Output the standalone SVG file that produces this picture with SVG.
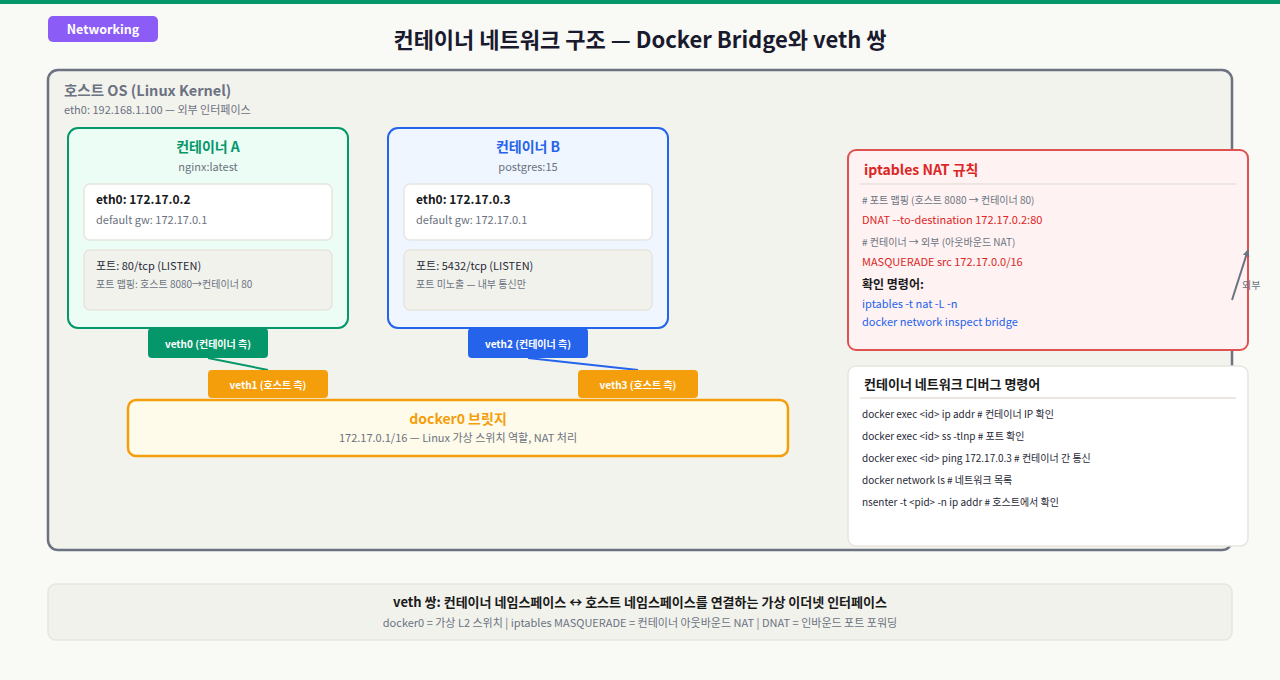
<svg xmlns="http://www.w3.org/2000/svg" width="1280" height="680" viewBox="0 0 1280 680">
<defs>
<style>
text{font-family:"Noto Sans CJK KR","Noto Sans",sans-serif}
.b{font-weight:700}
.g{fill:#6b7280}
.d{fill:#1f2937}
.w{fill:#ffffff}
.c{text-anchor:middle}
</style>
<marker id="ah" viewBox="0 0 10 10" refX="9" refY="5" markerWidth="7" markerHeight="7" orient="auto-start-reverse" markerUnits="userSpaceOnUse">
<path d="M0,0 L10,5 L0,10 z" fill="#6b7280"/>
</marker>
</defs>
<rect x="0" y="0" width="1280" height="680" fill="#f9f9f5"/>
<rect x="0" y="0" width="1280" height="4" fill="#059669"/>

<g id="badge">
<rect x="48" y="16" width="110" height="26" rx="5" fill="#8b5cf6"/>
<text x="103" y="33.5" class="c b w" font-size="12.5">Networking</text>
</g>
<text id="title" x="640" y="48" class="c b" font-size="22" fill="#1a1a2e">컨테이너 네트워크 구조 — Docker Bridge와 veth 쌍</text>

<g id="host">
<rect x="48" y="70" width="1184" height="480" rx="10" fill="#f3f3ee" stroke="#6b7280" stroke-width="2.5"/>
<text x="64" y="96" class="b g" font-size="14.5">호스트 OS (Linux Kernel)</text>
<text x="64" y="114" class="g" font-size="11">eth0: 192.168.1.100 — 외부 인터페이스</text>
</g>

<g id="containerA">
<rect x="68" y="128" width="280" height="200" rx="10" fill="#ecfdf5" stroke="#059669" stroke-width="2"/>
<text x="208" y="152" class="c b" font-size="14" fill="#059669">컨테이너 A</text>
<text x="208" y="171" class="c g" font-size="11">nginx:latest</text>
<rect x="84" y="184" width="248" height="56" rx="6" fill="#ffffff" stroke="#e7e5dd" stroke-width="1.5"/>
<text x="96" y="204" class="b" font-size="12" fill="#1a1a1a">eth0: 172.17.0.2</text>
<text x="96" y="224" class="g" font-size="11">default gw: 172.17.0.1</text>
<rect x="84" y="250" width="248" height="60" rx="6" fill="#f2f2ed" stroke="#e7e5dd" stroke-width="1.5"/>
<text x="96" y="270" class="d" font-size="11">포트: 80/tcp (LISTEN)</text>
<text x="96" y="288" class="g" font-size="10">포트 맵핑: 호스트 8080→컨테이너 80</text>
</g>

<g id="containerB">
<rect x="388" y="128" width="280" height="200" rx="10" fill="#eff6ff" stroke="#2563eb" stroke-width="2"/>
<text x="528" y="152" class="c b" font-size="14" fill="#2563eb">컨테이너 B</text>
<text x="528" y="171" class="c g" font-size="11">postgres:15</text>
<rect x="404" y="184" width="248" height="56" rx="6" fill="#ffffff" stroke="#e7e5dd" stroke-width="1.5"/>
<text x="416" y="204" class="b" font-size="12" fill="#1a1a1a">eth0: 172.17.0.3</text>
<text x="416" y="224" class="g" font-size="11">default gw: 172.17.0.1</text>
<rect x="404" y="250" width="248" height="60" rx="6" fill="#f2f2ed" stroke="#e7e5dd" stroke-width="1.5"/>
<text x="416" y="270" class="d" font-size="11">포트: 5432/tcp (LISTEN)</text>
<text x="416" y="288" class="g" font-size="10">포트 미노출 — 내부 통신만</text>
</g>

<g id="connectors">
<line x1="208" y1="358" x2="268" y2="370" stroke="#059669" stroke-width="2"/>
<line x1="528" y1="358" x2="638" y2="370" stroke="#2563eb" stroke-width="2"/>
</g>

<g id="veth0">
<rect x="148" y="328" width="120" height="30" rx="4" fill="#059669"/>
<text x="208" y="347.5" class="c b w" font-size="10">veth0 (컨테이너 측)</text>
</g>
<g id="veth2">
<rect x="468" y="328" width="120" height="30" rx="4" fill="#2563eb"/>
<text x="528" y="347.5" class="c b w" font-size="10">veth2 (컨테이너 측)</text>
</g>
<g id="veth1">
<rect x="208" y="370" width="120" height="28" rx="4" fill="#f59e0b"/>
<text x="268" y="388.5" class="c b w" font-size="10">veth1 (호스트 측)</text>
</g>
<g id="veth3">
<rect x="578" y="370" width="120" height="28" rx="4" fill="#f59e0b"/>
<text x="638" y="388.5" class="c b w" font-size="10">veth3 (호스트 측)</text>
</g>

<g id="docker0">
<rect x="128" y="400" width="660" height="56" rx="8" fill="#fefbea" stroke="#f59e0b" stroke-width="2.5"/>
<text x="458" y="424" class="c b" font-size="14" fill="#f59e0b">docker0 브릿지</text>
<text x="458" y="442" class="c g" font-size="11">172.17.0.1/16 — Linux 가상 스위치 역할, NAT 처리</text>
</g>

<g id="iptables">
<rect x="848" y="150" width="400" height="200" rx="8" fill="#fef2f2" stroke="#e05252" stroke-width="2"/>
<text x="864" y="175" class="b" font-size="14" fill="#dc2626">iptables NAT 규칙</text>
<line x1="860" y1="184" x2="1236" y2="184" stroke="#ebe6df" stroke-width="2"/>
<text x="862" y="204" class="g" font-size="10">#  포트 맵핑 (호스트 8080 → 컨테이너 80)</text>
<text x="862" y="224" font-size="11" fill="#dc2626">DNAT --to-destination 172.17.0.2:80</text>
<text x="862" y="246" class="g" font-size="10">#  컨테이너 → 외부 (아웃바운드 NAT)</text>
<text x="862" y="266" font-size="11" fill="#dc2626">MASQUERADE src 172.17.0.0/16</text>
<text x="862" y="289" class="b" font-size="12" fill="#1a1a1a">확인 명령어:</text>
<text x="862" y="308" font-size="11" fill="#2563eb">iptables -t nat -L -n</text>
<text x="862" y="326" font-size="11" fill="#2563eb">docker network inspect bridge</text>
</g>

<g id="external">
<line x1="1232" y1="300" x2="1248" y2="250" stroke="#6b7280" stroke-width="2" marker-end="url(#ah)"/>
<text x="1242" y="289" class="g" font-size="10">외부</text>
</g>

<g id="debug">
<rect x="848" y="366" width="400" height="180" rx="8" fill="#ffffff" stroke="#e7e5dd" stroke-width="1.5"/>
<text x="864" y="389" class="b" font-size="13" fill="#1a1a1a">컨테이너 네트워크 디버그 명령어</text>
<line x1="860" y1="398" x2="1236" y2="398" stroke="#ebe6df" stroke-width="2"/>
<text x="862" y="418" class="d" font-size="10">docker exec &lt;id&gt; ip addr # 컨테이너 IP 확인</text>
<text x="862" y="440" class="d" font-size="10">docker exec &lt;id&gt; ss -tlnp # 포트 확인</text>
<text x="862" y="462" class="d" font-size="10">docker exec &lt;id&gt; ping 172.17.0.3 # 컨테이너 간 통신</text>
<text x="862" y="484" class="d" font-size="10">docker network ls # 네트워크 목록</text>
<text x="862" y="506" class="d" font-size="10">nsenter -t &lt;pid&gt; -n ip addr # 호스트에서 확인</text>
</g>

<g id="footer">
<rect x="48" y="584" width="1184" height="56" rx="8" fill="#f2f2ed" stroke="#e7e5dd" stroke-width="1.5"/>
<text x="640" y="607" class="c b" font-size="13" fill="#1a1a1a">veth 쌍: 컨테이너 네임스페이스 ↔ 호스트 네임스페이스를 연결하는 가상 이더넷 인터페이스</text>
<text x="640" y="627" class="c g" font-size="11">docker0 = 가상 L2 스위치 | iptables MASQUERADE = 컨테이너 아웃바운드 NAT | DNAT = 인바운드 포트 포워딩</text>
</g>
</svg>
